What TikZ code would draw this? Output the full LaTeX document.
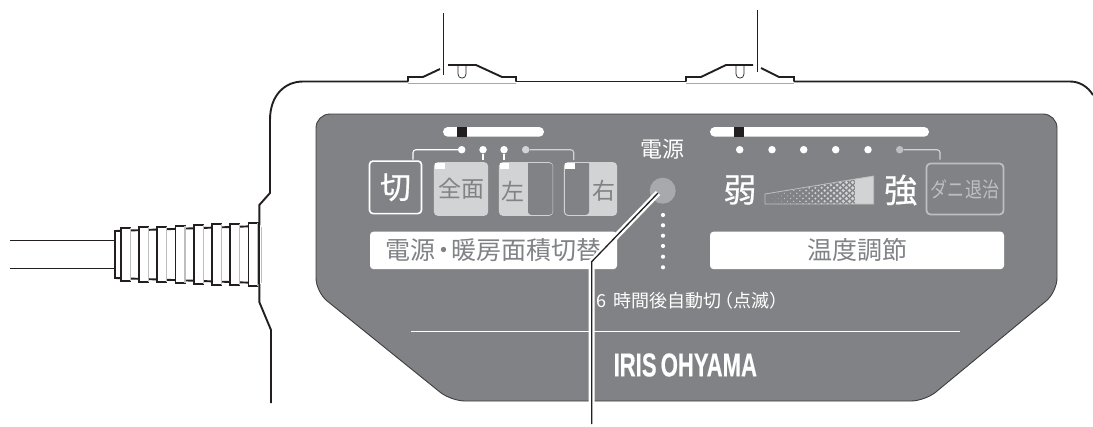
\documentclass[tikz,border=0pt]{standalone}
\usepackage{fontspec}
\setmainfont{Liberation Sans}
\newfontfamily\jp{Noto Sans CJK JP}
\newfontfamily\jpsemi[FakeBold=0.6]{Noto Sans CJK JP}
\newfontfamily\brandfont[FakeBold=0.5]{Liberation Sans Bold}
\definecolor{panelgrey}{HTML}{808285}
\definecolor{lightgrey}{HTML}{D1D3D4}
\definecolor{midgrey}{HTML}{BCBEC0}
\definecolor{ledgrey}{HTML}{A7A9AC}
\definecolor{inkdark}{HTML}{231F20}
\newcommand{\fs}[1]{\fontsize{#1}{#1}\selectfont\jp}
\newcommand{\fb}[1]{\fontsize{#1}{#1}\selectfont\jpsemi}
\tikzset{
  x=1pt,y=-1pt,
  housing/.style={draw=inkdark,line width=1.9pt,line join=miter},
  thinline/.style={draw=inkdark,line width=1.1pt},
  dotnode/.style={circle,fill=white,inner sep=0pt,minimum size=7.5pt},
  smalldot/.style={circle,fill=white,inner sep=0pt,minimum size=4.2pt},
  wire/.style={draw=white,line width=1.1pt,rounded corners=3pt},
  tagmark/.style={fill=white,draw=none},
  litbox/.style={draw=lightgrey,fill=lightgrey,line width=1.2pt,rounded corners=3.5pt,inner sep=0pt},
  labelbox/.style={fill=white,rounded corners=3.5pt,inner sep=0pt,text=panelgrey},
  barshape/.style={fill=white,rounded corners=4.8pt},
}
\begin{document}
\begin{tikzpicture}
\useasboundingbox (0,0) rectangle (1093,426);
% housing
\draw[housing] (408,81.5) -- (303,81.5) .. controls (285,81.5) and (270,95) .. (270,120)
  -- (270,193) -- (259.3,205) -- (259.3,225);
\draw[housing] (259.3,284) -- (259.3,302) -- (271,330) -- (271,403);
\draw[housing] (516,81.5) -- (686,81.5);
\draw[housing] (794,81.5) -- (1070,81.5) .. controls (1080,81.5) and (1088,87) .. (1093,95);
\draw[ledgrey,line width=.6pt] (408,83) -- (516,83) (686,83) -- (794,83);
% tabs
\draw[housing] (408,81.5) -- (408,77) -- (423,77) -- (440,69);
\draw[housing] (448,65) -- (476,65) -- (502,77) -- (516,77) -- (516,81.5);
\draw[housing] (686,81.5) -- (686,77) -- (701,77) -- (726,65) -- (753,65);
\draw[housing] (761,68) -- (779,77) -- (794,77) -- (794,81.5);
\draw[inkdark,line width=.7pt] (458,66) -- (458,74) .. controls (458,79.5) and (466,79.5) .. (466,74) -- (466,66);
\draw[inkdark,line width=.7pt] (736,66) -- (736,74) .. controls (736,79.5) and (744,79.5) .. (744,74) -- (744,66);
\draw[thinline] (443.5,13) -- (443.5,75);
\draw[thinline] (757.5,10) -- (757.5,72);
% cable
\draw[thinline] (10,240.3) -- (115,240.3);
\draw[thinline] (10,268.6) -- (115,268.6);
\draw[fill=white,draw=inkdark,line width=1.9pt] (115,231) -- (259,226) -- (259,283) -- (115,278) -- cycle;
\foreach \xl/\tp/\bt in {121/228/280.7,139/227.3/281.7,157/226.7/282.3,175.7/226/283.3,194/225.3/284,212/224.3/285,230/223.7/285.3,248.3/223/286}{
  \fill[white] (\xl,\tp) rectangle (\xl+9.3,\bt);
  \draw[inkdark,line width=2pt] (\xl-.8,\tp) -- (\xl+9.8,\tp) (\xl-.8,\bt) -- (\xl+9.8,\bt);
  \draw[inkdark,line width=1.1pt] (\xl,\tp) -- (\xl,\bt);
  \draw[midgrey,line width=1.1pt] (\xl+9.3,\tp) -- (\xl+9.3,\bt);
}
\fill[white] (259.9,227) rectangle (261,283);
\draw[midgrey,line width=.8pt] (261,227) -- (261,283);
\draw[inkdark,line width=1.9pt] (259.3,222) -- (259.3,226);
% panel
\path[fill=panelgrey,draw=inkdark!70!panelgrey,line width=.9pt,rounded corners=14pt]
  (316,114) -- (1057,114) -- (1057,292) -- (925,401) -- (451,401) -- (316,292) -- cycle;
% bars
\path[barshape] (443,127) rectangle (544,136.7);
\fill[inkdark] (457,127) rectangle (467,136.7);
\path[barshape] (710,127) rectangle (929,136.7);
\fill[inkdark] (734,127) rectangle (744,136.7);
% left indicators
\node[dotnode] (da) at (461.7,149.7) {};
\node[dotnode] (db) at (483,149.7) {};
\node[dotnode] (dc) at (504,149.7) {};
\node[dotnode,fill=lightgrey] (dd) at (525.7,149.7) {};
% buttons
\node[draw=white,line width=1.6pt,rounded corners=3.5pt,minimum width=52pt,minimum height=52.5pt,inner sep=0pt,text=white,font=\fb{31}] (kiri) at (395.5,187.3) {\raisebox{1.5pt}{切}};
\node[litbox,minimum width=53pt,minimum height=52.5pt,text=panelgrey,font=\fs{23}] (zen) at (461,189) {\raisebox{-2pt}{全面}};
\node[litbox,minimum width=53pt,minimum height=52.5pt] (hida) at (526,189) {};
\node[litbox,minimum width=52pt,minimum height=52.5pt] (migi) at (590.5,189) {};
\path[fill=panelgrey,rounded corners=3pt] (528,163.2) -- (552.6,163.2) -- (552.6,214.8) -- (528,214.8) [sharp corners] -- cycle;
\path[fill=panelgrey,rounded corners=3pt] (589,163.2) -- (565,163.2) -- (565,214.8) -- (589,214.8) [sharp corners] -- cycle;
\node[text=panelgrey,font=\fs{23},inner sep=0pt] (hidat) at (513.3,191) {左};
\node[text=panelgrey,font=\fs{23},inner sep=0pt] (migit) at (603.5,191) {右};
\fill[tagmark] (435,163) rectangle (445,169);
\fill[tagmark] (500,163) rectangle (509,169);
\fill[tagmark] (565,163) rectangle (574.5,169);
% left wires
\coordinate (wa) at (413,159.6);
\coordinate (wd) at (573.7,160);
\draw[wire] (da) -| (wa);
\draw[white,line width=1.1pt] (db) -- (483,160);
\draw[white,line width=1.1pt] (dc) -- (504,160);
\draw[wire,draw=lightgrey] (dd) -| (wd);
% power
\node[text=white,font=\fs{22},inner sep=0pt] (power) at (662,149) {電源};
\node[circle,fill=ledgrey,inner sep=0pt,minimum size=26pt] (led) at (662.7,190.7) {};
\foreach \yy in {215,225.3,235.7,246,256.7,267.3}
  \node[smalldot] at (663,\yy) {};
% right indicators
\foreach \n/\xx in {r1/739.7,r2/772,r3/803.7,r4/835.7,r5/868}
  \node[dotnode] (\n) at (\xx,149.7) {};
\node[dotnode,fill=midgrey] (r6) at (899.7,149.7) {};
\coordinate (wr) at (940,159.6);
\draw[wire,draw=lightgrey] (r6) -| (wr);
\node[draw=midgrey,line width=1.8pt,rounded corners=4pt,minimum width=77pt,minimum height=51pt,inner sep=0pt,text=midgrey,font=\fs{21}] (dani) at (965,189) {\scalebox{0.81}[1]{ダニ退治}};
\node[text=white,font=\fb{33},inner sep=0pt] (weak) at (740,190) {弱};
\node[text=white,font=\fb{33},inner sep=0pt] (strong) at (900.7,190) {強};
% wedge
\begin{scope}
\clip (765,194) -- (873.7,176) -- (873.7,204) -- (765,204) -- cycle;
\fill[lightgrey] (855,170) rectangle (875,206);
\foreach \i in {0,...,27}{
  \pgfmathsetmacro{\cx}{772+\i*3.1}
  \pgfmathsetmacro{\rr}{0.25+\i*0.062}
  \foreach \j in {0,...,5}{
    \pgfmathsetmacro{\cy}{204-\j*5.4-mod(\i,2)*2.7}
    \fill[lightgrey] (\cx,\cy) circle[radius=\rr];
  }
}
\end{scope}
\draw[midgrey,line width=.8pt] (765,194) -- (873.7,176) -- (873.7,204) -- (765,204) -- cycle;
% label boxes
\node[labelbox,minimum width=247pt,minimum height=37.5pt,font=\fs{25}] (areal) at (493.5,250.4) {電源\kern-4.5pt・\kern-4.5pt 暖房面積切替};
\node[labelbox,minimum width=294pt,minimum height=37.5pt,font=\fs{25}] (templ) at (857,250.4) {温度調節};
% lower texts
\node[text=white,font=\fs{18},inner sep=0pt,anchor=west] (six) at (596,300.7) {6\kern7pt 時間後自動切\kern-6pt（点滅）};
\coordinate (rl) at (411,331.7);
\coordinate (rr) at (960,331.7);
\draw[white,line width=1.3pt] (rl) -- (rr);
\node[text=white,inner sep=0pt,font=\fontsize{33}{33}\selectfont\brandfont] (brand) at (685.3,365) {\scalebox{0.67}[1]{IRIS\kern-3pt\ OHYAMA}};
% leader
\coordinate (lk) at (591.7,261.7);
\coordinate (le) at (591.7,424);
\coordinate (ls) at (658,193);
\draw[white,line width=6pt] (ls) -- (lk) -- (591.7,403);
\draw[inkdark,line width=1.3pt] (ls) -- (lk) -- (le);
\end{tikzpicture}
\end{document}
